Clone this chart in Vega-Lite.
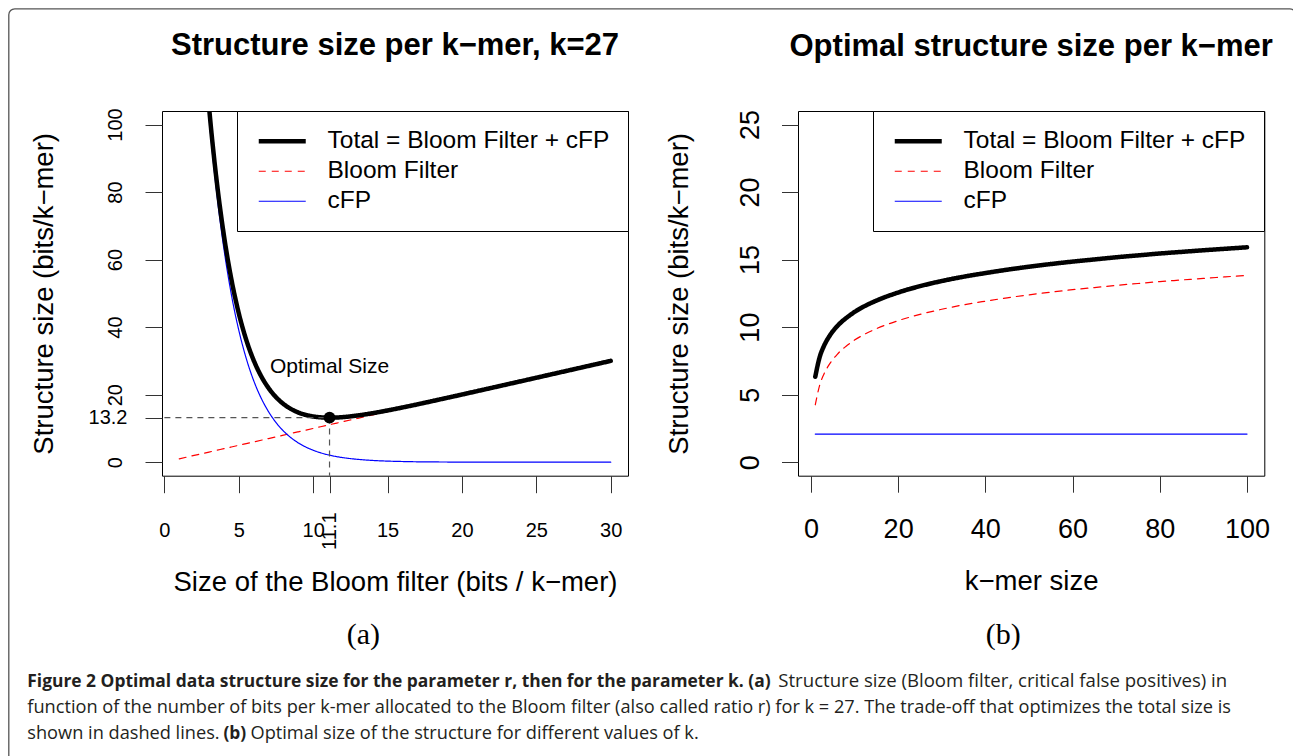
{
  "$schema": "https://vega.github.io/schema/vega-lite/v6.json",
  "background": "white",
  "padding": {"left": 8, "top": 8, "right": 0, "bottom": 0},
  "config": {
    "font": "Liberation Sans",
    "view": {"stroke": null},
    "axis": {"labelFont": "Liberation Sans", "titleFont": "Liberation Sans", "labelColor": "black", "titleColor": "black", "tickColor": "#333", "tickWidth": 1, "domain": false, "grid": false, "labelOverlap": false, "labelFlush": false, "titleFontWeight": "normal"},
    "legend": {"orient": "top-right", "offset": 0, "padding": 18, "strokeColor": "black", "fillColor": "white", "labelFont": "Liberation Sans", "labelFontSize": 24.5, "labelColor": "black", "labelLimit": 600, "labelOffset": 33, "symbolOffset": 15, "symbolType": "stroke", "symbolSize": 2209, "rowPadding": 5},
    "title": {"font": "Liberation Sans", "fontSize": 31, "fontWeight": "bold", "color": "black", "anchor": "middle", "frame": "group", "baseline": "alphabetic", "offset": 46}
  },
  "bounds": "flush",
  "align": "each",
  "columns": 2,
  "spacing": {"row": 135.3, "column": 170},
  "resolve": {"scale": {"color": "independent", "strokeDash": "independent"}},
  "concat": [
    {
      "width": 466,
      "height": 364.7,
      "title": {"text": "Structure size per k−mer, k=27"},
      "view": {"stroke": "black", "strokeWidth": 1},
      "resolve": {"axis": {"x": "independent", "y": "independent"}},
      "layer": [
        {
          "data": {"values": [
            {"r": 1, "Bloom Filter": 1, "cFP": 267.19, "Total = Bloom Filter + cFP": 268.19},
            {"r": 1.5, "Bloom Filter": 1.5, "cFP": 210.13, "Total = Bloom Filter + cFP": 211.63},
            {"r": 2, "Bloom Filter": 2, "cFP": 165.26, "Total = Bloom Filter + cFP": 167.26},
            {"r": 2.5, "Bloom Filter": 2.5, "cFP": 129.96, "Total = Bloom Filter + cFP": 132.46},
            {"r": 3, "Bloom Filter": 3, "cFP": 102.21, "Total = Bloom Filter + cFP": 105.21},
            {"r": 3.5, "Bloom Filter": 3.5, "cFP": 80.38, "Total = Bloom Filter + cFP": 83.88},
            {"r": 4, "Bloom Filter": 4, "cFP": 63.22, "Total = Bloom Filter + cFP": 67.22},
            {"r": 4.5, "Bloom Filter": 4.5, "cFP": 49.72, "Total = Bloom Filter + cFP": 54.22},
            {"r": 5, "Bloom Filter": 5, "cFP": 39.1, "Total = Bloom Filter + cFP": 44.1},
            {"r": 5.5, "Bloom Filter": 5.5, "cFP": 30.75, "Total = Bloom Filter + cFP": 36.25},
            {"r": 6, "Bloom Filter": 6, "cFP": 24.18, "Total = Bloom Filter + cFP": 30.18},
            {"r": 6.5, "Bloom Filter": 6.5, "cFP": 19.01, "Total = Bloom Filter + cFP": 25.51},
            {"r": 7, "Bloom Filter": 7, "cFP": 14.96, "Total = Bloom Filter + cFP": 21.96},
            {"r": 7.5, "Bloom Filter": 7.5, "cFP": 11.76, "Total = Bloom Filter + cFP": 19.26},
            {"r": 8, "Bloom Filter": 8, "cFP": 9.25, "Total = Bloom Filter + cFP": 17.25},
            {"r": 8.5, "Bloom Filter": 8.5, "cFP": 7.27, "Total = Bloom Filter + cFP": 15.77},
            {"r": 9, "Bloom Filter": 9, "cFP": 5.72, "Total = Bloom Filter + cFP": 14.72},
            {"r": 9.5, "Bloom Filter": 9.5, "cFP": 4.5, "Total = Bloom Filter + cFP": 14.0},
            {"r": 10, "Bloom Filter": 10, "cFP": 3.54, "Total = Bloom Filter + cFP": 13.54},
            {"r": 10.5, "Bloom Filter": 10.5, "cFP": 2.78, "Total = Bloom Filter + cFP": 13.28},
            {"r": 11, "Bloom Filter": 11, "cFP": 2.19, "Total = Bloom Filter + cFP": 13.19},
            {"r": 11.5, "Bloom Filter": 11.5, "cFP": 1.72, "Total = Bloom Filter + cFP": 13.22},
            {"r": 12, "Bloom Filter": 12, "cFP": 1.35, "Total = Bloom Filter + cFP": 13.35},
            {"r": 13, "Bloom Filter": 13, "cFP": 0.84, "Total = Bloom Filter + cFP": 13.84},
            {"r": 14, "Bloom Filter": 14, "cFP": 0.52, "Total = Bloom Filter + cFP": 14.52},
            {"r": 15, "Bloom Filter": 15, "cFP": 0.32, "Total = Bloom Filter + cFP": 15.32},
            {"r": 16, "Bloom Filter": 16, "cFP": 0.2, "Total = Bloom Filter + cFP": 16.2},
            {"r": 17, "Bloom Filter": 17, "cFP": 0.12, "Total = Bloom Filter + cFP": 17.12},
            {"r": 18, "Bloom Filter": 18, "cFP": 0.08, "Total = Bloom Filter + cFP": 18.08},
            {"r": 19, "Bloom Filter": 19, "cFP": 0.05, "Total = Bloom Filter + cFP": 19.05},
            {"r": 20, "Bloom Filter": 20, "cFP": 0.03, "Total = Bloom Filter + cFP": 20.03},
            {"r": 21, "Bloom Filter": 21, "cFP": 0.02, "Total = Bloom Filter + cFP": 21.02},
            {"r": 22, "Bloom Filter": 22, "cFP": 0.01, "Total = Bloom Filter + cFP": 22.01},
            {"r": 23, "Bloom Filter": 23, "cFP": 0.01, "Total = Bloom Filter + cFP": 23.01},
            {"r": 24, "Bloom Filter": 24, "cFP": 0, "Total = Bloom Filter + cFP": 24},
            {"r": 25, "Bloom Filter": 25, "cFP": 0, "Total = Bloom Filter + cFP": 25},
            {"r": 26, "Bloom Filter": 26, "cFP": 0, "Total = Bloom Filter + cFP": 26},
            {"r": 27, "Bloom Filter": 27, "cFP": 0, "Total = Bloom Filter + cFP": 27},
            {"r": 28, "Bloom Filter": 28, "cFP": 0, "Total = Bloom Filter + cFP": 28},
            {"r": 29, "Bloom Filter": 29, "cFP": 0, "Total = Bloom Filter + cFP": 29},
            {"r": 30, "Bloom Filter": 30, "cFP": 0, "Total = Bloom Filter + cFP": 30}
          ]},
          "transform": [{"fold": ["Bloom Filter", "cFP", "Total = Bloom Filter + cFP"], "as": ["series", "size"]}],
          "mark": {"type": "line", "clip": true, "interpolate": "monotone", "strokeCap": "round", "strokeJoin": "round"},
          "encoding": {
            "x": {"field": "r", "type": "quantitative", "scale": {"domain": [-0.16, 31.16], "nice": false, "zero": false},
                  "axis": {"orient": "bottom", "values": [0, 5, 10, 15, 20, 25, 30], "format": "d", "tickSize": 17, "labelFontSize": 20, "labelAngle": 0, "labelAlign": "center", "labelBaseline": "alphabetic", "labelPadding": 44, "title": "Size of the Bloom filter (bits / k−mer)", "titleFontSize": 27.5, "titleBaseline": "alphabetic", "titlePadding": 50}},
            "y": {"field": "size", "type": "quantitative", "scale": {"domain": [-4, 104], "nice": false, "zero": false},
                  "axis": {"orient": "left", "values": [0, 20, 40, 60, 80, 100], "format": "d", "tickSize": 17, "labelFontSize": 20, "labelAngle": 270, "labelAlign": "center", "labelBaseline": "alphabetic", "labelPadding": 24, "title": "Structure size (bits/k−mer)", "titleFontSize": 27.5, "titleBaseline": "alphabetic", "titlePadding": 53}},
            "color": {"field": "series", "type": "nominal", "scale": {"domain": ["Total = Bloom Filter + cFP", "Bloom Filter", "cFP"], "range": ["black", "red", "blue"]},
                      "legend": {"title": null, "encode": {"symbols": {"update": {"strokeWidth": {"signal": "datum.value === 'Total = Bloom Filter + cFP' ? 4.5 : 1.2"}}}}}},
            "strokeDash": {"field": "series", "type": "nominal", "scale": {"domain": ["Total = Bloom Filter + cFP", "Bloom Filter", "cFP"], "range": [[1, 0], [7, 6], [1, 0]]}, "legend": {"title": null}},
            "strokeWidth": {"condition": {"test": "datum.series === 'Total = Bloom Filter + cFP'", "value": 4.5}, "value": 1.2}
          }
        },
        {
          "data": {"values": [{"r_start": 0, "r_opt": 11.1, "size_opt": 13.2}]},
          "mark": {"type": "rule", "color": "#555", "strokeDash": [6, 5], "strokeWidth": 1.2},
          "encoding": {
            "x": {"field": "r_start", "type": "quantitative", "axis": null},
            "x2": {"field": "r_opt"},
            "y": {"field": "size_opt", "type": "quantitative", "axis": null}
          }
        },
        {
          "data": {"values": [{"r_opt": 11.1, "size_opt": 13.2, "size_floor": -4}]},
          "mark": {"type": "rule", "color": "#555", "strokeDash": [6, 5], "strokeWidth": 1.2},
          "encoding": {
            "x": {"field": "r_opt", "type": "quantitative", "axis": null},
            "y": {"field": "size_opt", "type": "quantitative", "axis": null},
            "y2": {"field": "size_floor"}
          }
        },
        {
          "data": {"values": [{"r_opt": 11.1, "size_opt": 13.2}]},
          "mark": {"type": "circle", "size": 140, "color": "black", "opacity": 1},
          "encoding": {
            "x": {"field": "r_opt", "type": "quantitative",
                  "axis": {"orient": "bottom", "values": [11.1], "format": ".1f", "tickSize": 17, "labelFontSize": 20, "labelAngle": 270, "labelAlign": "center", "labelBaseline": "middle", "labelPadding": 38, "title": null}},
            "y": {"field": "size_opt", "type": "quantitative",
                  "axis": {"orient": "left", "values": [13.2], "format": ".1f", "tickSize": 17, "labelFontSize": 20, "labelAngle": 0, "labelAlign": "right", "labelBaseline": "middle", "labelPadding": 18, "title": null}}
          }
        },
        {
          "data": {"values": [{"r_opt": 11.1, "size_opt": 13.2}]},
          "mark": {"type": "text", "text": "Optimal Size", "font": "Liberation Sans", "fontSize": 21, "align": "center", "baseline": "alphabetic", "dy": -45, "color": "black"},
          "encoding": {
            "x": {"field": "r_opt", "type": "quantitative", "axis": null},
            "y": {"field": "size_opt", "type": "quantitative", "axis": null}
          }
        }
      ]
    },
    {
      "width": 466.3,
      "height": 364.7,
      "title": {"text": "Optimal structure size per k−mer"},
      "view": {"stroke": "black", "strokeWidth": 1},
      "data": {"values": [
        {"k": 1, "Bloom Filter": 4.25, "cFP": 2.08, "Total = Bloom Filter + cFP": 6.33},
        {"k": 2, "Bloom Filter": 5.69, "cFP": 2.08, "Total = Bloom Filter + cFP": 7.77},
        {"k": 3, "Bloom Filter": 6.53, "cFP": 2.08, "Total = Bloom Filter + cFP": 8.61},
        {"k": 4, "Bloom Filter": 7.13, "cFP": 2.08, "Total = Bloom Filter + cFP": 9.21},
        {"k": 5, "Bloom Filter": 7.59, "cFP": 2.08, "Total = Bloom Filter + cFP": 9.68},
        {"k": 6, "Bloom Filter": 7.97, "cFP": 2.08, "Total = Bloom Filter + cFP": 10.06},
        {"k": 7, "Bloom Filter": 8.3, "cFP": 2.08, "Total = Bloom Filter + cFP": 10.38},
        {"k": 8, "Bloom Filter": 8.57, "cFP": 2.08, "Total = Bloom Filter + cFP": 10.65},
        {"k": 10, "Bloom Filter": 9.04, "cFP": 2.08, "Total = Bloom Filter + cFP": 11.12},
        {"k": 12, "Bloom Filter": 9.42, "cFP": 2.08, "Total = Bloom Filter + cFP": 11.5},
        {"k": 15, "Bloom Filter": 9.88, "cFP": 2.08, "Total = Bloom Filter + cFP": 11.96},
        {"k": 20, "Bloom Filter": 10.48, "cFP": 2.08, "Total = Bloom Filter + cFP": 12.56},
        {"k": 25, "Bloom Filter": 10.94, "cFP": 2.08, "Total = Bloom Filter + cFP": 13.03},
        {"k": 30, "Bloom Filter": 11.32, "cFP": 2.08, "Total = Bloom Filter + cFP": 13.41},
        {"k": 35, "Bloom Filter": 11.65, "cFP": 2.08, "Total = Bloom Filter + cFP": 13.73},
        {"k": 40, "Bloom Filter": 11.92, "cFP": 2.08, "Total = Bloom Filter + cFP": 14.0},
        {"k": 45, "Bloom Filter": 12.17, "cFP": 2.08, "Total = Bloom Filter + cFP": 14.25},
        {"k": 50, "Bloom Filter": 12.39, "cFP": 2.08, "Total = Bloom Filter + cFP": 14.47},
        {"k": 55, "Bloom Filter": 12.59, "cFP": 2.08, "Total = Bloom Filter + cFP": 14.67},
        {"k": 60, "Bloom Filter": 12.77, "cFP": 2.08, "Total = Bloom Filter + cFP": 14.85},
        {"k": 65, "Bloom Filter": 12.93, "cFP": 2.08, "Total = Bloom Filter + cFP": 15.01},
        {"k": 70, "Bloom Filter": 13.09, "cFP": 2.08, "Total = Bloom Filter + cFP": 15.17},
        {"k": 75, "Bloom Filter": 13.23, "cFP": 2.08, "Total = Bloom Filter + cFP": 15.31},
        {"k": 80, "Bloom Filter": 13.37, "cFP": 2.08, "Total = Bloom Filter + cFP": 15.45},
        {"k": 85, "Bloom Filter": 13.49, "cFP": 2.08, "Total = Bloom Filter + cFP": 15.57},
        {"k": 90, "Bloom Filter": 13.61, "cFP": 2.08, "Total = Bloom Filter + cFP": 15.69},
        {"k": 95, "Bloom Filter": 13.72, "cFP": 2.08, "Total = Bloom Filter + cFP": 15.8},
        {"k": 100, "Bloom Filter": 13.83, "cFP": 2.08, "Total = Bloom Filter + cFP": 15.91}
      ]},
      "transform": [{"fold": ["Bloom Filter", "cFP", "Total = Bloom Filter + cFP"], "as": ["series", "size"]}],
      "mark": {"type": "line", "clip": true, "interpolate": "monotone", "strokeCap": "round", "strokeJoin": "round"},
      "encoding": {
        "x": {"field": "k", "type": "quantitative", "scale": {"domain": [-2.96, 103.96], "nice": false, "zero": false},
              "axis": {"orient": "bottom", "values": [0, 20, 40, 60, 80, 100], "format": "d", "tickSize": 16.5, "labelFontSize": 27, "labelAngle": 0, "labelAlign": "center", "labelBaseline": "alphabetic", "labelPadding": 45, "title": "k−mer size", "titleFontSize": 27.5, "titleBaseline": "alphabetic", "titlePadding": 47}},
        "y": {"field": "size", "type": "quantitative", "scale": {"domain": [-1, 26], "nice": false, "zero": false},
              "axis": {"orient": "left", "values": [0, 5, 10, 15, 20, 25], "format": "d", "tickSize": 16.5, "labelFontSize": 27, "labelAngle": 270, "labelAlign": "center", "labelBaseline": "alphabetic", "labelPadding": 23, "title": "Structure size (bits/k−mer)", "titleFontSize": 27.5, "titleBaseline": "alphabetic", "titlePadding": 49}},
        "color": {"field": "series", "type": "nominal", "scale": {"domain": ["Total = Bloom Filter + cFP", "Bloom Filter", "cFP"], "range": ["black", "red", "blue"]},
                  "legend": {"title": null, "encode": {"symbols": {"update": {"strokeWidth": {"signal": "datum.value === 'Total = Bloom Filter + cFP' ? 4.5 : 1.2"}}}}}},
        "strokeDash": {"field": "series", "type": "nominal", "scale": {"domain": ["Total = Bloom Filter + cFP", "Bloom Filter", "cFP"], "range": [[1, 0], [7, 6], [1, 0]]}, "legend": {"title": null}},
        "strokeWidth": {"condition": {"test": "datum.series === 'Total = Bloom Filter + cFP'", "value": 4.5}, "value": 1.2}
      }
    },
    {
      "width": 466,
      "height": 100,
      "view": {"stroke": null},
      "data": {"values": [{"caption": 1}]},
      "layer": [
        {"mark": {"type": "rect", "fill": "transparent", "stroke": "#555", "strokeWidth": 1.3, "cornerRadius": 6},
         "encoding": {"x": {"datum": -153.2, "type": "quantitative", "scale": {"domain": [0, 466], "nice": false, "zero": false}, "axis": null}, "x2": {"datum": 1133.8},
                      "y": {"datum": -602.5, "type": "quantitative", "scale": {"domain": [0, 100], "nice": false, "zero": false, "reverse": true}, "axis": null}, "y2": {"datum": 159}}},
        {"mark": {"type": "text", "text": "Figure 2 Optimal data structure size for the parameter r, then for the parameter k. (a)", "font": "Open Sans", "fontSize": 17.4, "fontWeight": "bold", "align": "left", "baseline": "alphabetic", "color": "#231f20"},
         "encoding": {"x": {"datum": -134.7, "type": "quantitative", "axis": null}, "y": {"datum": 76, "type": "quantitative", "axis": null}}},
        {"mark": {"type": "text", "text": "Structure size (Bloom filter, critical false positives) in", "font": "Open Sans", "fontSize": 18.6, "align": "left", "baseline": "alphabetic", "color": "#231f20"},
         "encoding": {"x": {"datum": 616.3, "type": "quantitative", "axis": null}, "y": {"datum": 76, "type": "quantitative", "axis": null}}},
        {"mark": {"type": "text", "text": "function of the number of bits per k-mer allocated to the Bloom filter (also called ratio r) for k = 27. The trade-off that optimizes the total size is", "font": "Open Sans", "fontSize": 18.2, "align": "left", "baseline": "alphabetic", "color": "#231f20"},
         "encoding": {"x": {"datum": -134.7, "type": "quantitative", "axis": null}, "y": {"datum": 102, "type": "quantitative", "axis": null}}},
        {"mark": {"type": "text", "text": "shown in dashed lines.", "font": "Open Sans", "fontSize": 18.2, "align": "left", "baseline": "alphabetic", "color": "#231f20"},
         "encoding": {"x": {"datum": -134.7, "type": "quantitative", "axis": null}, "y": {"datum": 128, "type": "quantitative", "axis": null}}},
        {"mark": {"type": "text", "text": "(b)", "font": "Open Sans", "fontSize": 17.4, "fontWeight": "bold", "align": "left", "baseline": "alphabetic", "color": "#231f20"},
         "encoding": {"x": {"datum": 61.4, "type": "quantitative", "axis": null}, "y": {"datum": 128, "type": "quantitative", "axis": null}}},
        {"mark": {"type": "text", "text": "Optimal size of the structure for different values of k.", "font": "Open Sans", "fontSize": 18.2, "align": "left", "baseline": "alphabetic", "color": "#231f20"},
         "encoding": {"x": {"datum": 88.5, "type": "quantitative", "axis": null}, "y": {"datum": 128, "type": "quantitative", "axis": null}}},
        {"mark": {"type": "text", "text": "(a)", "font": "Liberation Serif", "fontSize": 30, "align": "center", "baseline": "alphabetic", "color": "black"},
         "encoding": {"x": {"datum": 201.3, "type": "quantitative", "axis": null}, "y": {"datum": 33, "type": "quantitative", "axis": null}}},
        {"mark": {"type": "text", "text": "(b)", "font": "Liberation Serif", "fontSize": 30, "align": "center", "baseline": "alphabetic", "color": "black"},
         "encoding": {"x": {"datum": 841.3, "type": "quantitative", "axis": null}, "y": {"datum": 33, "type": "quantitative", "axis": null}}}
      ]
    }
  ]
}
